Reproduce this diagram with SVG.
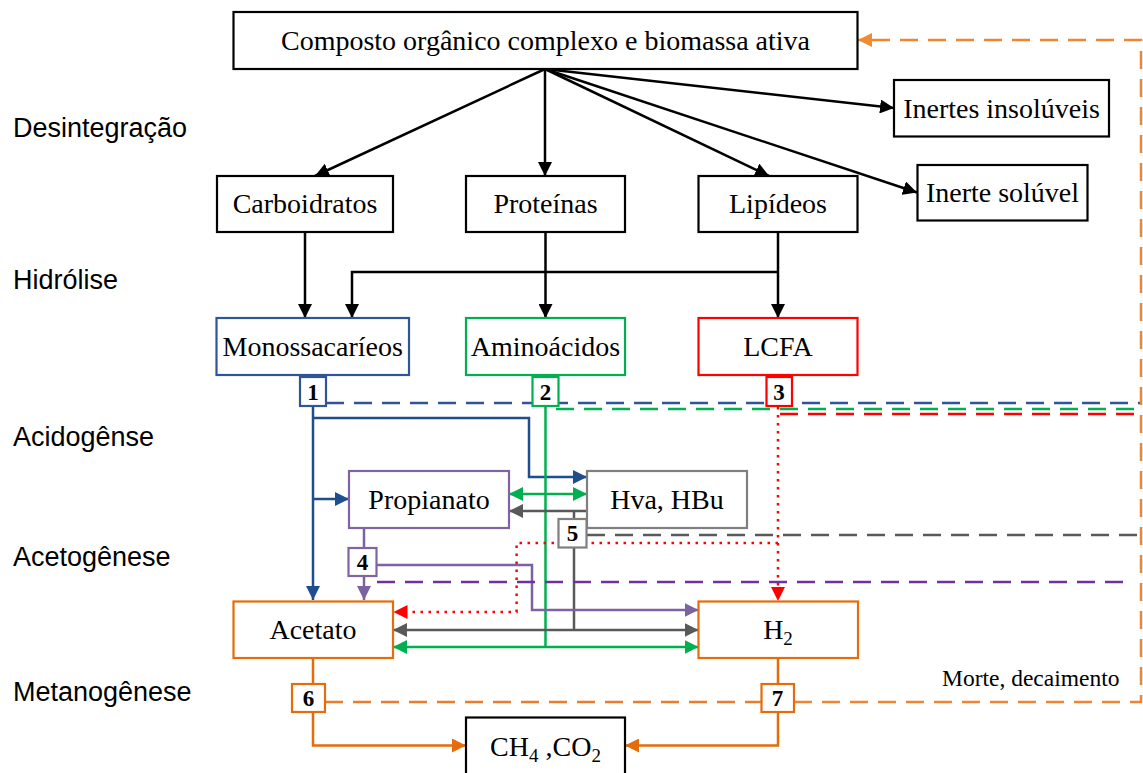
<svg xmlns="http://www.w3.org/2000/svg" width="1143" height="773" viewBox="0 0 1143 773">
  <style>
    .box { fill: #fff; stroke-width: 2.2; }
    .k { stroke: #000; }
    .t { font-family: "Liberation Serif", "Times New Roman", serif; font-size: 28px; fill: #000; text-anchor: middle; }
    .num { font-family: "Liberation Serif", "Times New Roman", serif; font-size: 23px; font-weight: bold; fill: #000; text-anchor: middle; }
    .phase { font-family: "Liberation Sans", Arial, sans-serif; font-size: 27px; fill: #000; }
    .note { font-family: "Liberation Serif", "Times New Roman", serif; font-size: 23.5px; fill: #000; }
    #connectors path, #connectors line { fill: none; stroke-width: 2.5; }
    #connectors path.head { fill: #FF0000; stroke: none; }
    .dash { stroke-dasharray: 18 10; }
    .dot { stroke-dasharray: 2.5 5.5; }
  </style>
  <defs>
    <marker id="aK" viewBox="0 0 10 10" refX="10" refY="5" markerWidth="14" markerHeight="14" markerUnits="userSpaceOnUse" orient="auto-start-reverse"><path d="M0,0 L10,5 L0,10 z" fill="#000"/></marker>
    <marker id="aB" viewBox="0 0 10 10" refX="10" refY="5" markerWidth="14" markerHeight="14" markerUnits="userSpaceOnUse" orient="auto-start-reverse"><path d="M0,0 L10,5 L0,10 z" fill="#1F4E8C"/></marker>
    <marker id="aG" viewBox="0 0 10 10" refX="10" refY="5" markerWidth="14" markerHeight="14" markerUnits="userSpaceOnUse" orient="auto-start-reverse"><path d="M0,0 L10,5 L0,10 z" fill="#00B050"/></marker>
    <marker id="aY" viewBox="0 0 10 10" refX="10" refY="5" markerWidth="14" markerHeight="14" markerUnits="userSpaceOnUse" orient="auto-start-reverse"><path d="M0,0 L10,5 L0,10 z" fill="#595959"/></marker>
    <marker id="aP" viewBox="0 0 10 10" refX="10" refY="5" markerWidth="14" markerHeight="14" markerUnits="userSpaceOnUse" orient="auto-start-reverse"><path d="M0,0 L10,5 L0,10 z" fill="#7B62A0"/></marker>
    <marker id="aO" viewBox="0 0 10 10" refX="10" refY="5" markerWidth="14" markerHeight="14" markerUnits="userSpaceOnUse" orient="auto-start-reverse"><path d="M0,0 L10,5 L0,10 z" fill="#E46C0A"/></marker>
    <marker id="aO2" viewBox="0 0 10 10" refX="10" refY="5" markerWidth="14" markerHeight="14" markerUnits="userSpaceOnUse" orient="auto-start-reverse"><path d="M0,0 L10,5 L0,10 z" fill="#F28A30"/></marker>
  </defs>

  <rect width="1143" height="773" fill="#fff"/>

  <!-- phase labels -->
  <g id="phases">
    <text class="phase" x="13" y="137">Desintegração</text>
    <text class="phase" x="13" y="289">Hidrólise</text>
    <text class="phase" x="13" y="446">Acidogênse</text>
    <text class="phase" x="13" y="566">Acetogênese</text>
    <text class="phase" x="13" y="701">Metanogênese</text>
  </g>

  <g id="connectors">
    <!-- disintegration -->
    <line class="k" x1="545" y1="69" x2="315" y2="176" marker-end="url(#aK)"/>
    <line class="k" x1="545" y1="69" x2="545" y2="176" marker-end="url(#aK)"/>
    <line class="k" x1="545" y1="69" x2="769" y2="176" marker-end="url(#aK)"/>
    <line class="k" x1="545" y1="69" x2="894" y2="108" marker-end="url(#aK)"/>
    <line class="k" x1="545" y1="69" x2="917" y2="192.5" marker-end="url(#aK)"/>
    <!-- hydrolysis -->
    <line class="k" x1="305" y1="232" x2="305" y2="318" marker-end="url(#aK)"/>
    <line class="k" x1="545.5" y1="232" x2="545.5" y2="318" marker-end="url(#aK)"/>
    <line class="k" x1="778" y1="232" x2="778" y2="318" marker-end="url(#aK)"/>
    <path class="k" d="M778,272 H352 V318" marker-end="url(#aK)"/>

    <!-- sugars (blue) -->
    <line stroke="#1F4E8C" x1="313" y1="375" x2="313" y2="600" marker-end="url(#aB)"/>
    <path stroke="#1F4E8C" d="M313,418 H529 V477 H587" marker-end="url(#aB)"/>
    <line stroke="#1F4E8C" x1="313" y1="499" x2="349" y2="499" marker-end="url(#aB)"/>
    <line class="dash" stroke="#2F5597" x1="326" y1="403" x2="1140" y2="403"/>

    <!-- amino acids (green) -->
    <line stroke="#00B050" x1="545.5" y1="375" x2="545.5" y2="647"/>
    <line stroke="#00B050" x1="509" y1="494" x2="587" y2="494" marker-start="url(#aG)" marker-end="url(#aG)"/>
    <line stroke="#00B050" x1="393" y1="647" x2="698.5" y2="647" marker-start="url(#aG)" marker-end="url(#aG)"/>
    <line class="dash" stroke="#00B050" x1="556" y1="409" x2="1140" y2="409"/>

    <!-- LCFA (red) -->
    <line class="dot" stroke="#FF0000" x1="778" y1="375" x2="778" y2="590"/>
    <path class="head" d="M771,587 L785,587 L778,601 z"/>
    <path class="dot" stroke="#FF0000" d="M778,543 H516.6 V612 H404"/>
    <path class="head" d="M407.5,605 L407.5,619 L393.5,612 z"/>
    <line class="dash" stroke="#FF0000" x1="780" y1="414" x2="1140" y2="414"/>

    <!-- valerate / butyrate (gray) -->
    <line stroke="#595959" x1="587" y1="511" x2="509" y2="511" marker-end="url(#aY)"/>
    <line stroke="#595959" x1="574" y1="511" x2="574" y2="630"/>
    <line stroke="#595959" x1="393" y1="630" x2="698.5" y2="630" marker-start="url(#aY)" marker-end="url(#aY)"/>
    <line class="dash" stroke="#595959" x1="587" y1="535" x2="1140" y2="535"/>

    <!-- propionate (purple) -->
    <line stroke="#7B62A0" x1="364" y1="528" x2="364" y2="600" marker-end="url(#aP)"/>
    <path stroke="#7B62A0" d="M377,565 H532 V610 H698.5" marker-end="url(#aP)"/>
    <line class="dash" stroke="#7030A0" x1="377" y1="582" x2="1133" y2="582"/>

    <!-- methanogenesis (orange) -->
    <path stroke="#E46C0A" d="M313,658 V745.5 H466" marker-end="url(#aO)"/>
    <path stroke="#E46C0A" d="M778,658 V745.5 H625" marker-end="url(#aO)"/>
    <line class="dash" stroke="#E87D2C" x1="325" y1="702" x2="761.5" y2="702"/>
    <path class="dash" stroke="#EE8530" d="M794,702 H1141 V40 H858" marker-end="url(#aO2)"/>
  </g>

  <!-- main nodes -->
  <g id="n-composto"><rect class="box k" x="233.5" y="12" width="624" height="57"/><text class="t" x="545.5" y="50">Composto orgânico complexo e biomassa ativa</text></g>
  <g id="n-inertes-insoluveis"><rect class="box k" x="894" y="80" width="215" height="56.5"/><text class="t" x="1001.5" y="117.5">Inertes insolúveis</text></g>
  <g id="n-inerte-soluvel"><rect class="box k" x="917.5" y="165" width="170" height="55.5"/><text class="t" x="1002.5" y="202">Inerte solúvel</text></g>
  <g id="n-carboidratos"><rect class="box k" x="217" y="176" width="176" height="56"/><text class="t" x="305" y="213">Carboidratos</text></g>
  <g id="n-proteinas"><rect class="box k" x="466" y="176" width="159" height="56"/><text class="t" x="545.5" y="213">Proteínas</text></g>
  <g id="n-lipideos"><rect class="box k" x="698.5" y="176" width="159" height="56"/><text class="t" x="778" y="213">Lipídeos</text></g>
  <g id="n-monossacarieos"><rect class="box" stroke="#2F5597" x="216.5" y="318" width="192.5" height="57"/><text class="t" x="312.7" y="356">Monossacaríeos</text></g>
  <g id="n-aminoacidos"><rect class="box" stroke="#00B050" x="466" y="318" width="159" height="57"/><text class="t" x="545.5" y="356">Aminoácidos</text></g>
  <g id="n-lcfa"><rect class="box" stroke="#FF0000" x="698.5" y="318" width="159" height="57"/><text class="t" x="778" y="356">LCFA</text></g>
  <g id="n-propianato"><rect class="box" stroke="#8064A2" x="349" y="471" width="160" height="57"/><text class="t" x="429" y="509">Propianato</text></g>
  <g id="n-hva-hbu"><rect class="box" stroke="#7F7F7F" x="587" y="471" width="160" height="57"/><text class="t" x="667" y="509">Hva, HBu</text></g>
  <g id="n-acetato"><rect class="box" stroke="#E46C0A" x="233.5" y="601.5" width="159.5" height="56.5"/><text class="t" x="313" y="639">Acetato</text></g>
  <g id="n-h2"><rect class="box" stroke="#E46C0A" x="698.5" y="601.5" width="159.5" height="56.5"/><text class="t" x="778" y="639">H<tspan font-size="19" dy="6">2</tspan></text></g>
  <g id="n-ch4-co2"><rect class="box k" x="466" y="717.5" width="159" height="62"/><text class="t" x="545.5" y="756">CH<tspan font-size="19" dy="6">4</tspan><tspan dy="-6"> ,CO</tspan><tspan font-size="19" dy="6">2</tspan></text></g>

  <!-- process markers -->
  <g id="p1"><rect class="box" stroke="#2F5597" stroke-width="1.5" x="300" y="377" width="26" height="29"/><text class="num" x="313" y="400">1</text></g>
  <g id="p2"><rect class="box" stroke="#00B050" stroke-width="1.5" x="532.5" y="377" width="26" height="29"/><text class="num" x="545.5" y="400">2</text></g>
  <g id="p3"><rect class="box" stroke="#FF0000" stroke-width="1.5" x="766.5" y="377" width="25.5" height="29"/><text class="num" x="779" y="400">3</text></g>
  <g id="p4"><rect class="box" stroke="#8064A2" stroke-width="1.5" x="348.5" y="548" width="28" height="28"/><text class="num" x="362.5" y="570">4</text></g>
  <g id="p5"><rect class="box" stroke="#7F7F7F" stroke-width="1.5" x="558.5" y="519" width="28" height="28.5"/><text class="num" x="572.5" y="541">5</text></g>
  <g id="p6"><rect class="box" stroke="#E46C0A" stroke-width="1.5" x="292" y="684" width="33" height="28"/><text class="num" x="308.5" y="706">6</text></g>
  <g id="p7"><rect class="box" stroke="#E46C0A" stroke-width="1.5" x="761.5" y="684" width="32.5" height="28"/><text class="num" x="777.5" y="706">7</text></g>

  <text class="note" x="942" y="686">Morte, decaimento</text>
</svg>
